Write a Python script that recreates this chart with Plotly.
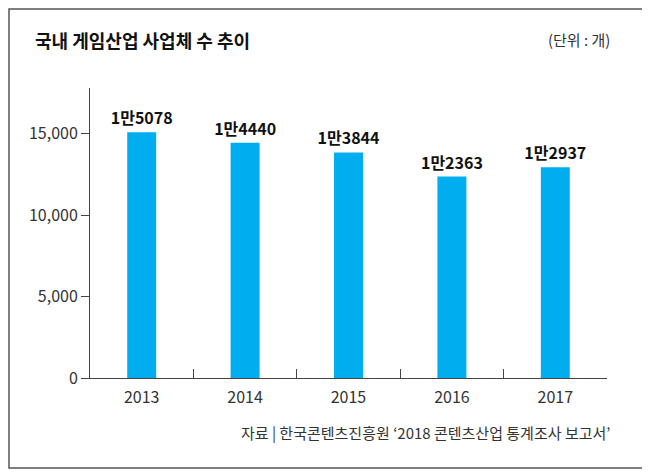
import plotly.graph_objects as go

# 국내 게임산업 사업체 수 (단위: 개)
years = ["2013", "2014", "2015", "2016", "2017"]
companies = [15078, 14440, 13844, 12363, 12937]
value_labels = ["1만5078", "1만4440", "1만3844", "1만2363", "1만2937"]
y_ticks = [0, 5000, 10000, 15000]
y_tick_labels = ["0", "5,000", "10,000", "15,000"]

font_kr = "Noto Sans CJK KR"

# the page puts the figure 8px in from the window corner
OFF = 8
W, H = 650, 476
# plot area in window pixels
L, R, T, B = 90, 607, 88, 378


def px_x(x):
    return (x - L) / (R - L)


def px_y(y):
    return (B - y) / (B - T)


fig = go.Figure()
fig.add_trace(go.Bar(
    x=years, y=companies,
    marker=dict(color="#00aeef", line=dict(width=0)),
    text=value_labels, textposition="outside", cliponaxis=False,
    constraintext="none",
    textfont=dict(family=font_kr, size=16, color="#111111", weight="bold"),
    hoverinfo="x+y",
))

fig.update_layout(
    width=W, height=H,
    margin=dict(l=L - OFF, r=W - (R - OFF), t=T - OFF, b=H - (B - OFF)),
    paper_bgcolor="white", plot_bgcolor="white",
    bargap=0.72, showlegend=False,
    font=dict(family=font_kr, color="#333333"),
)
fig.update_xaxes(
    type="category", range=[-0.5, 4.5],
    showline=True, linecolor="#444444", linewidth=1,
    ticks="inside", tickson="boundaries", ticklen=9, tickcolor="#444444",
    tickfont=dict(family=font_kr, size=16, color="#333333"),
    ticklabelstandoff=5,
    showgrid=False, zeroline=False,
)
fig.update_yaxes(
    range=[0, 17800],
    tickvals=y_ticks, ticktext=y_tick_labels,
    showline=True, linecolor="#444444", linewidth=1,
    ticks="outside", ticklen=8, tickcolor="#444444",
    tickfont=dict(family=font_kr, size=16, color="#333333"),
    showgrid=False, zeroline=False,
)

# outer frame
fig.add_shape(type="rect", xref="paper", yref="paper",
              x0=px_x(OFF + 1), x1=px_x(643), y0=px_y(468), y1=px_y(OFF + 1),
              line=dict(color="#555555", width=1.5), layer="below")

fig.add_annotation(text="<b>국내 게임산업 사업체 수 추이</b>", xref="paper", yref="paper",
                   x=px_x(33), y=px_y(40), xanchor="left", yanchor="middle",
                   showarrow=False, font=dict(family=font_kr, size=18, color="#111111"))
fig.add_annotation(text="(단위 : 개)", xref="paper", yref="paper",
                   x=px_x(612), y=px_y(40), xanchor="right", yanchor="middle",
                   showarrow=False, font=dict(family=font_kr, size=15, color="#333333"))
fig.add_annotation(text="자료 | 한국콘텐츠진흥원 ‘2018 콘텐츠산업 통계조사 보고서’",
                   xref="paper", yref="paper",
                   x=px_x(612), y=px_y(432), xanchor="right", yanchor="middle",
                   showarrow=False, font=dict(family=font_kr, size=15, color="#333333"))

fig.write_html("out.html")
